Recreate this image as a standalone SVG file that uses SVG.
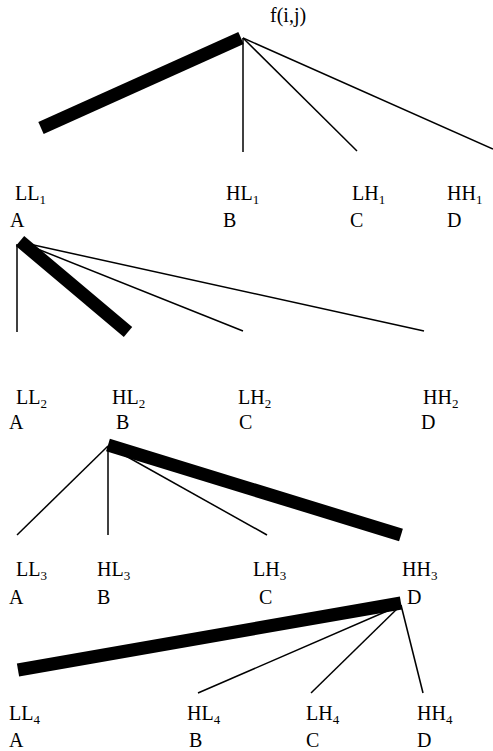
<svg xmlns="http://www.w3.org/2000/svg" width="493" height="751" viewBox="0 0 493 751">
<style>
.t{font-family:"Liberation Serif","Times New Roman",serif;font-size:20px;fill:#000}
.s{font-size:13px}
.thick{stroke:#000;stroke-width:13;fill:none;stroke-linecap:butt}
.thin{stroke:#000;stroke-width:1.5;fill:none}
</style>
<rect width="493" height="751" fill="#fff"/>
<g id="connectors">
<line class="thick" x1="41" y1="128" x2="241" y2="38"/>
<line class="thin" x1="243" y1="38" x2="243" y2="152"/>
<line class="thin" x1="243" y1="38" x2="357" y2="151"/>
<line class="thin" x1="243" y1="38" x2="493" y2="149"/>
<line class="thick" x1="20" y1="241" x2="128" y2="332"/>
<line class="thin" x1="17" y1="244" x2="17" y2="332"/>
<line class="thin" x1="20" y1="242" x2="243" y2="331"/>
<line class="thin" x1="20" y1="242" x2="424" y2="331"/>
<line class="thick" x1="108" y1="445" x2="401" y2="535"/>
<line class="thin" x1="108" y1="446" x2="17" y2="535"/>
<line class="thin" x1="108" y1="446" x2="108" y2="535"/>
<line class="thin" x1="108" y1="446" x2="267" y2="535"/>
<line class="thick" x1="18" y1="670" x2="401" y2="603"/>
<line class="thin" x1="401" y1="605" x2="198" y2="693"/>
<line class="thin" x1="401" y1="605" x2="311" y2="693"/>
<line class="thin" x1="401" y1="605" x2="423" y2="693"/>
</g>
<g id="root"><text class="t" x="270" y="22">f(i,j)</text></g>
<g id="LL1"><text class="t" x="15" y="200">LL<tspan class="s" dy="4">1</tspan></text><text class="t" x="10" y="227">A</text></g>
<g id="HL1"><text class="t" x="226" y="200">HL<tspan class="s" dy="4">1</tspan></text><text class="t" x="223" y="227">B</text></g>
<g id="LH1"><text class="t" x="352" y="200">LH<tspan class="s" dy="4">1</tspan></text><text class="t" x="350" y="227">C</text></g>
<g id="HH1"><text class="t" x="447" y="200">HH<tspan class="s" dy="4">1</tspan></text><text class="t" x="447" y="227">D</text></g>
<g id="LL2"><text class="t" x="16" y="404">LL<tspan class="s" dy="4">2</tspan></text><text class="t" x="9" y="429">A</text></g>
<g id="HL2"><text class="t" x="112" y="404">HL<tspan class="s" dy="4">2</tspan></text><text class="t" x="116" y="429">B</text></g>
<g id="LH2"><text class="t" x="238" y="404">LH<tspan class="s" dy="4">2</tspan></text><text class="t" x="239" y="429">C</text></g>
<g id="HH2"><text class="t" x="423" y="404">HH<tspan class="s" dy="4">2</tspan></text><text class="t" x="421" y="429">D</text></g>
<g id="LL3"><text class="t" x="16" y="576">LL<tspan class="s" dy="4">3</tspan></text><text class="t" x="9" y="604">A</text></g>
<g id="HL3"><text class="t" x="97" y="576">HL<tspan class="s" dy="4">3</tspan></text><text class="t" x="97" y="604">B</text></g>
<g id="LH3"><text class="t" x="253" y="576">LH<tspan class="s" dy="4">3</tspan></text><text class="t" x="259" y="604">C</text></g>
<g id="HH3"><text class="t" x="402" y="576">HH<tspan class="s" dy="4">3</tspan></text><text class="t" x="407" y="604">D</text></g>
<g id="LL4"><text class="t" x="9" y="720">LL<tspan class="s" dy="4">4</tspan></text><text class="t" x="9" y="747">A</text></g>
<g id="HL4"><text class="t" x="187" y="720">HL<tspan class="s" dy="4">4</tspan></text><text class="t" x="189" y="747">B</text></g>
<g id="LH4"><text class="t" x="306" y="720">LH<tspan class="s" dy="4">4</tspan></text><text class="t" x="306" y="747">C</text></g>
<g id="HH4"><text class="t" x="417" y="720">HH<tspan class="s" dy="4">4</tspan></text><text class="t" x="417" y="747">D</text></g>
</svg>
